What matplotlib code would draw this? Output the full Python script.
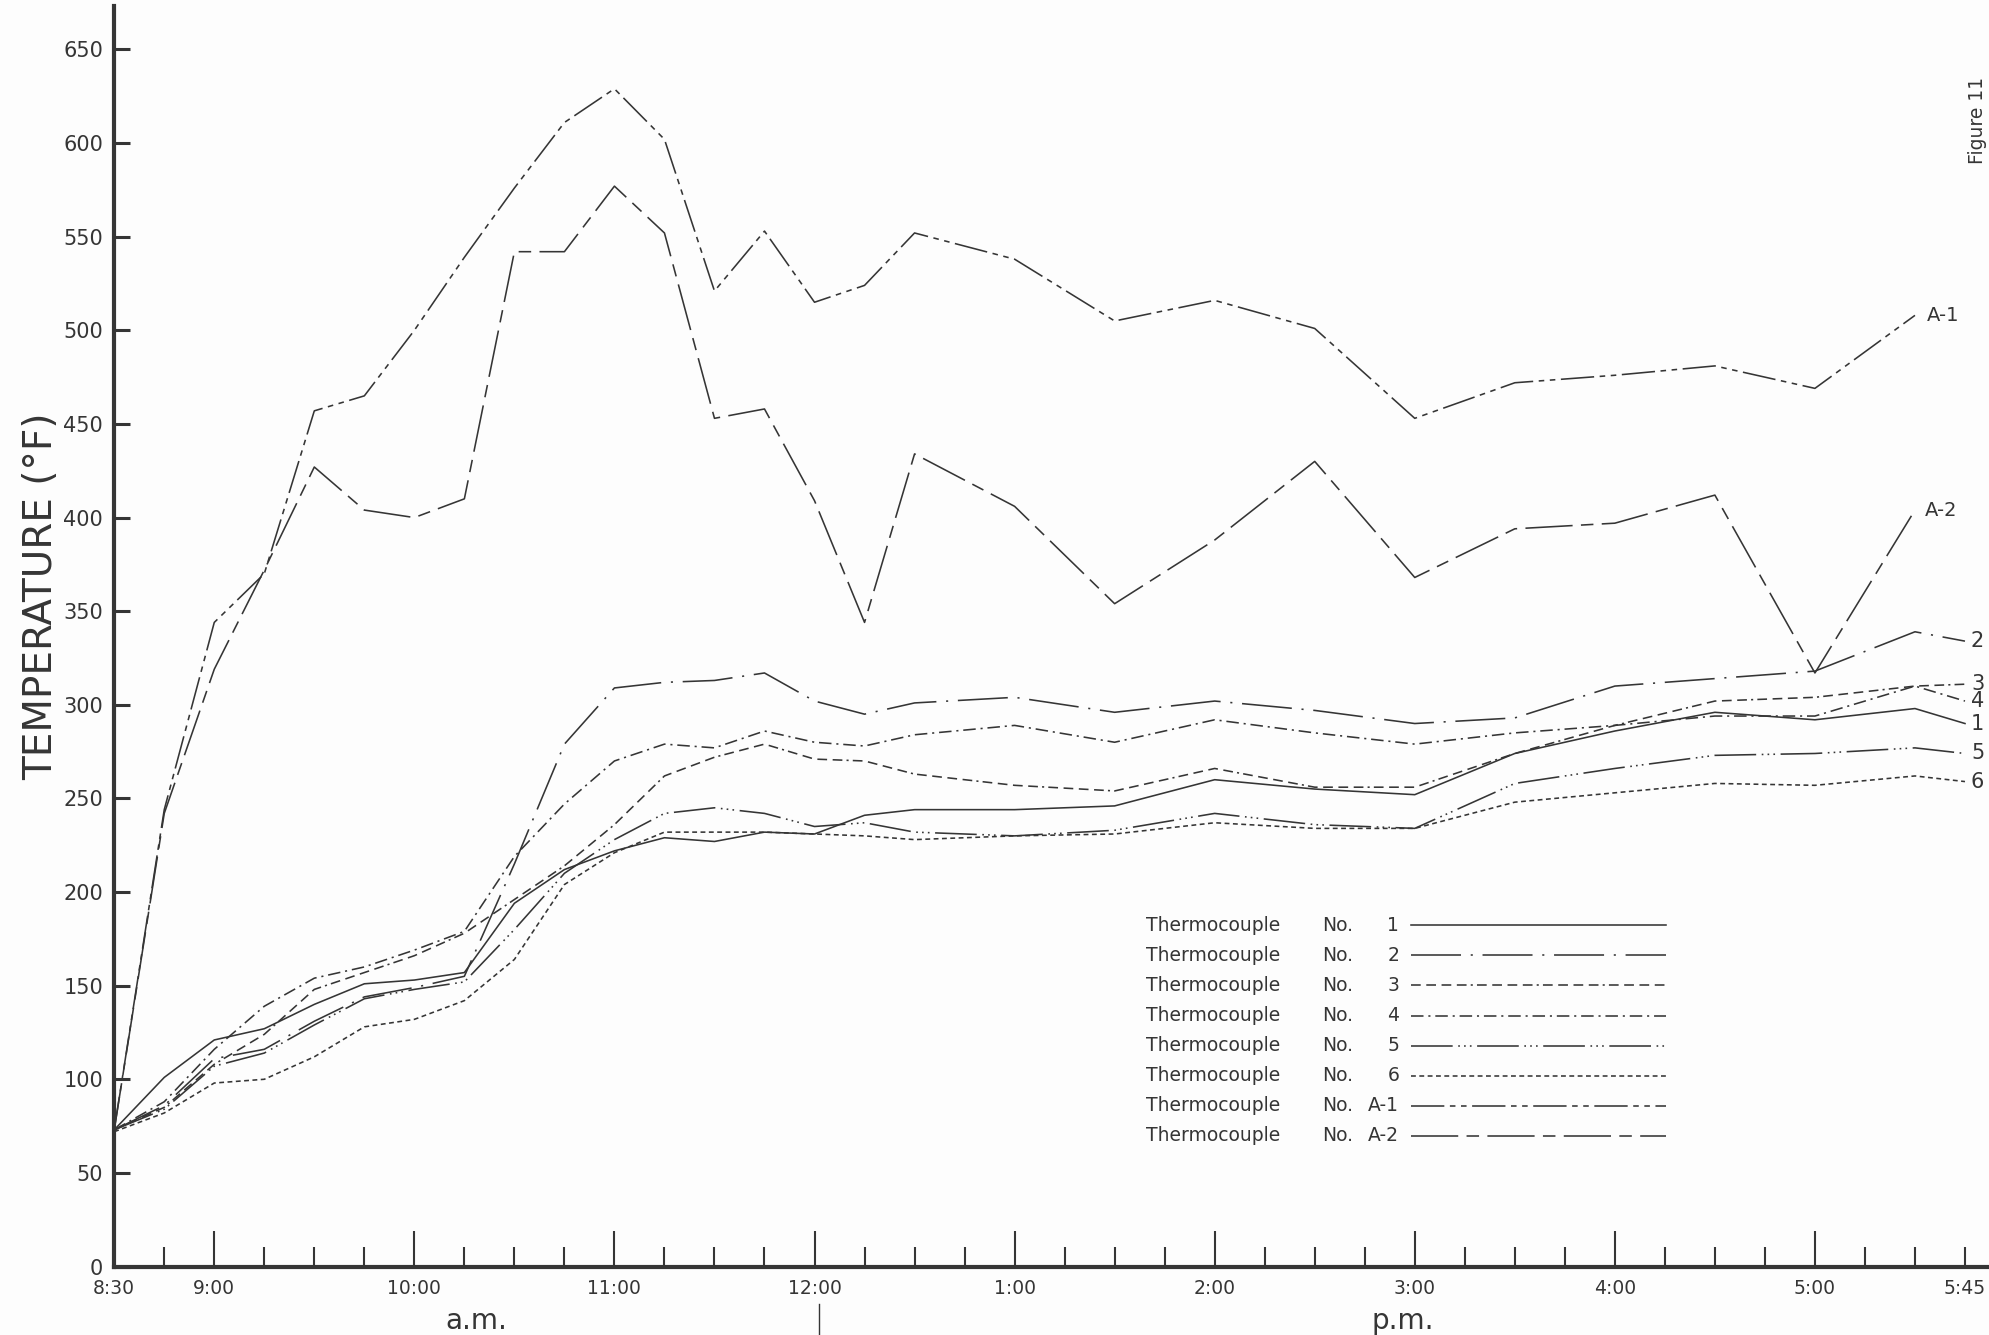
import matplotlib.pyplot as plt
from matplotlib.transforms import blended_transform_factory

plt.rcParams['font.family'] = ['DejaVu Sans']
plt.rcParams['lines.scale_dashes'] = False

# reading times in decimal hours (8:30 a.m. .. 5:45 p.m.)
times = [8.5, 8.75, 9.0, 9.25, 9.5, 9.75, 10.0, 10.25, 10.5, 10.75, 11.0, 11.25,
         11.5, 11.75, 12.0, 12.25, 12.5, 13.0, 13.5, 14.0, 14.5, 15.0, 15.5, 16.0,
         16.5, 17.0, 17.5, 17.75]
times_a = [8.5, 8.75, 9.0, 9.25, 9.5, 9.75, 10.0, 10.25, 10.5, 10.75, 11.0, 11.25,
           11.5, 11.75, 12.0, 12.25, 12.5, 13.0, 13.5, 14.0, 14.5, 15.0, 15.5, 16.0,
           16.5, 17.0, 17.5]

tc1 = [73, 101, 121, 127, 140, 151, 153, 157, 194, 212, 222, 229, 227, 232, 231, 241,
       244, 244, 246, 260, 255, 252, 274, 286, 296, 292, 298, 290]
tc2 = [73, 86, 111, 116, 131, 144, 149, 155, 215, 279, 309, 312, 313, 317, 302, 295,
       301, 304, 296, 302, 297, 290, 293, 310, 314, 318, 339, 334]
tc3 = [73, 85, 108, 124, 148, 157, 166, 178, 196, 214, 236, 262, 272, 279, 271, 270,
       263, 257, 254, 266, 256, 256, 274, 289, 302, 304, 310, 311]
tc4 = [73, 88, 116, 139, 154, 160, 169, 179, 219, 247, 270, 279, 277, 286, 280, 278,
       284, 289, 280, 292, 285, 279, 285, 289, 294, 294, 310, 302]
tc5 = [73, 84, 107, 114, 129, 143, 148, 152, 180, 210, 228, 242, 245, 242, 235, 237,
       232, 230, 233, 242, 236, 234, 258, 266, 273, 274, 277, 274]
tc6 = [72, 82, 98, 100, 112, 128, 132, 142, 164, 204, 221, 232, 232, 232, 231, 230,
       228, 230, 231, 237, 234, 234, 248, 253, 258, 257, 262, 259]
tca1 = [73, 244, 344, 370, 457, 465, 500, 539, 576, 611, 629, 602, 521, 553, 515, 524,
        552, 538, 505, 516, 501, 453, 472, 476, 481, 469, 508]
tca2 = [73, 242, 319, 372, 427, 404, 400, 410, 542, 542, 577, 552, 453, 458, 409, 344,
        434, 406, 354, 388, 430, 368, 394, 397, 412, 317, 404]

names = ['1', '2', '3', '4', '5', '6', 'A-1', 'A-2']
series = [tc1, tc2, tc3, tc4, tc5, tc6, tca1, tca2]
xs = [times] * 6 + [times_a] * 2
dash_styles = [
    None,
    (0, (36, 7, 1.5, 7)),
    (0, (7, 4, 7, 4, 7, 4, 7, 3, 1.5, 3)),
    (0, (9, 3.5, 1.5, 3.5)),
    (0, (30, 4, 1.2, 3, 1.2, 3, 1.2, 4)),
    (0, (3.5, 2.5)),
    (0, (24, 4, 4, 4, 4, 4)),
    (0, (34, 6, 9, 6)),
]

ink = '#353535'
paper = '#fdfdfd'

fig = plt.figure(figsize=(19.9, 13.35), dpi=100, facecolor=paper)
ax = fig.add_axes([0.0574, 0.0513, 0.9426, 0.9439])
ax.set_facecolor(paper)

for x, y, ls in zip(xs, series, dash_styles):
    ax.plot(x, y, color=ink, lw=1.15, linestyle='-' if ls is None else ls)

ax.set_xlim(8.5, 17.875)
ax.set_ylim(0, 673)

for side in ['top', 'right']:
    ax.spines[side].set_visible(False)
for side in ['left', 'bottom']:
    ax.spines[side].set_linewidth(3)
    ax.spines[side].set_color(ink)

ax.set_yticks(list(range(0, 651, 50)))
ax.tick_params(axis='y', direction='in', length=11.5, width=2.2,
               labelsize=15, pad=8, colors=ink)

hour_ticks = [9, 10, 11, 12, 13, 14, 15, 16, 17]
hour_labels = ['9:00', '10:00', '11:00', '12:00', '1:00', '2:00', '3:00', '4:00', '5:00']
quarter_ticks = [8.5] + [8.5 + 0.25 * i for i in range(1, 38) if (8.5 + 0.25 * i) % 1 != 0]
quarter_labels = ['8:30'] + [''] * (len(quarter_ticks) - 2) + ['5:45']
ax.set_xticks(hour_ticks, labels=hour_labels)
ax.set_xticks(quarter_ticks, labels=quarter_labels, minor=True)
ax.tick_params(axis='x', which='major', direction='in', length=26, width=1.5,
               labelsize=13.5, pad=9, colors=ink)
ax.tick_params(axis='x', which='minor', direction='in', length=14.5, width=1.5,
               labelsize=13.5, pad=9, colors=ink)

ax.set_ylabel('TEMPERATURE (°F)', fontsize=28, color=ink)
ax.yaxis.set_label_coords(-0.029, 0.532)

bt = blended_transform_factory(ax.transData, ax.transAxes)
ax.text(10.31, -0.043, 'a.m.', transform=bt, ha='center', va='center', fontsize=20, color=ink)
ax.text(14.94, -0.043, 'p.m.', transform=bt, ha='center', va='center', fontsize=20, color=ink)
ax.plot([12.02, 12.02], [-0.030, -0.056], transform=bt, color=ink, lw=1, clip_on=False)

# end-of-line labels
for name, x, y in zip(names[:6], xs[:6], series[:6]):
    ax.text(x[-1] + 0.03, y[-1], name, ha='left', va='center', fontsize=15, color=ink)
ax.text(17.56, tca1[-1], 'A-1', ha='left', va='center', fontsize=14, color=ink)
ax.text(17.55, tca2[-1], 'A-2', ha='left', va='center', fontsize=14, color=ink)

# hand-drawn style key
for i, (name, ls) in enumerate(zip(names, dash_styles)):
    yy = 0.2709 - i * 0.0239
    ax.text(0.550, yy, 'Thermocouple', transform=ax.transAxes, ha='left', va='center',
            fontsize=13.5, color=ink)
    ax.text(0.644, yy, 'No.', transform=ax.transAxes, ha='left', va='center',
            fontsize=13.5, color=ink)
    ax.text(0.685, yy, name, transform=ax.transAxes, ha='right', va='center',
            fontsize=13.5, color=ink)
    ax.plot([0.6915, 0.8275], [yy, yy], transform=ax.transAxes, color=ink, lw=1.15,
            linestyle='-' if ls is None else ls)

fig.text(0.9936, 0.9097, 'Figure 11', rotation=90, ha='center', va='center',
         fontsize=13.5, color=ink)

fig.savefig('out.png', dpi=100, facecolor=paper)
